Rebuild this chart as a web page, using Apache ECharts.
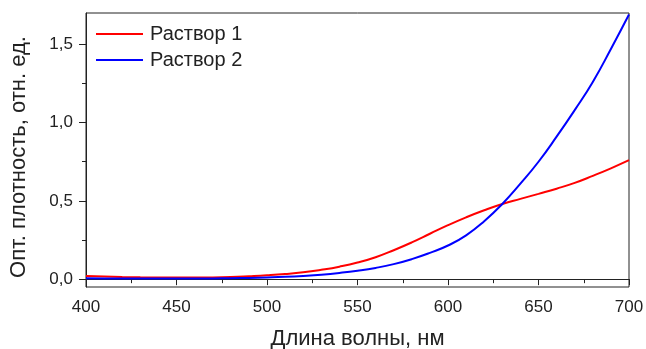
<!DOCTYPE html>
<html>
<head>
<meta charset="utf-8">
<script src="https://cdn.jsdelivr.net/npm/echarts@6/dist/echarts.min.js"></script>
<style>
  html, body { margin: 0; padding: 0; background: #fff; }
  #chart { width: 646px; height: 349px; }
</style>
</head>
<body>
<div id="chart"></div>
<script>
// длины волн, нм
const wavelengths = [400, 410, 420, 430, 440, 450, 460, 470, 480, 490, 500,
  510, 520, 530, 540, 550, 560, 570, 580, 590, 600,
  610, 620, 630, 640, 650, 660, 670, 680, 690, 700];

// Раствор 1
const solution1 = [0.020, 0.017, 0.014, 0.012, 0.011, 0.010, 0.010, 0.011, 0.014, 0.019, 0.025,
  0.033, 0.044, 0.060, 0.080, 0.106, 0.140, 0.185, 0.235, 0.290, 0.345,
  0.395, 0.440, 0.480, 0.513, 0.545, 0.578, 0.615, 0.660, 0.708, 0.760];

// Раствор 2
const solution2 = [0.006, 0.005, 0.004, 0.004, 0.004, 0.004, 0.004, 0.005, 0.006, 0.008, 0.011,
  0.015, 0.021, 0.029, 0.040, 0.054, 0.072, 0.096, 0.128, 0.168, 0.215,
  0.280, 0.370, 0.480, 0.610, 0.750, 0.910, 1.080, 1.260, 1.470, 1.690];

const yMajor = [0, 0.5, 1.0, 1.5];
const yMinor = [0.25, 0.75, 1.25];

const font = '"Liberation Sans", Arial, sans-serif';
const ink = '#222';

let myChart = echarts.init(document.getElementById('chart'), null, { renderer: 'canvas' });

let option = {
  animation: false,
  grid: {
    left: 86, right: 17, top: 13, bottom: 62,
    outerBoundsMode: 'none',
    show: true, borderColor: ink, borderWidth: 1, backgroundColor: 'transparent'
  },
  legend: {
    orient: 'vertical',
    left: 96, top: 23,
    padding: 0,
    icon: 'rect',
    itemWidth: 47, itemHeight: 2,
    itemGap: 4,
    textStyle: { fontFamily: font, fontSize: 20, color: ink, lineHeight: 22, padding: [0, 0, 0, 2] },
    data: ['Раствор 1', 'Раствор 2']
  },
  xAxis: {
    type: 'value',
    min: 400, max: 700, interval: 50,
    name: 'Длина волны, нм',
    nameLocation: 'middle',
    nameGap: 41,
    nameTextStyle: { fontFamily: font, fontSize: 22, color: ink },
    axisLine: { lineStyle: { color: ink, width: 1 } },
    axisTick: { length: 6, lineStyle: { color: ink } },
    minorTick: { show: true, splitNumber: 2, length: 4, lineStyle: { color: ink } },
    axisLabel: { fontFamily: font, fontSize: 17, color: ink, margin: 12 },
    splitLine: { show: false }
  },
  yAxis: [
    {
      type: 'value',
      min: -0.05, max: 1.7,
      name: 'Опт. плотность, отн. ед.',
      nameLocation: 'middle',
      nameGap: 56,
      nameTextStyle: { fontFamily: font, fontSize: 22, color: ink, padding: [0, 14, 0, 0] },
      axisLine: { show: true, lineStyle: { color: ink, width: 1 } },
      axisTick: { show: true, length: 7, customValues: yMajor, lineStyle: { color: ink } },
      axisLabel: {
        fontFamily: font, fontSize: 17, color: ink, margin: 13,
        customValues: yMajor,
        formatter: (v) => v.toFixed(1).replace('.', ',')
      },
      splitLine: { show: false }
    },
    {
      type: 'value',
      position: 'left',
      min: -0.05, max: 1.7,
      axisLine: { show: false },
      axisTick: { show: true, length: 4, customValues: yMinor, lineStyle: { color: ink } },
      axisLabel: { show: false },
      splitLine: { show: false }
    }
  ],
  series: [
    {
      name: 'Раствор 1',
      type: 'line',
      smooth: true,
      symbol: 'none',
      color: '#ff0000',
      lineStyle: { width: 2 },
      data: wavelengths.map((w, i) => [w, solution1[i]])
    },
    {
      name: 'Раствор 2',
      type: 'line',
      smooth: true,
      symbol: 'none',
      color: '#0000ff',
      lineStyle: { width: 2 },
      data: wavelengths.map((w, i) => [w, solution2[i]])
    }
  ]
};

option && myChart.setOption(option);
</script>
</body>
</html>
